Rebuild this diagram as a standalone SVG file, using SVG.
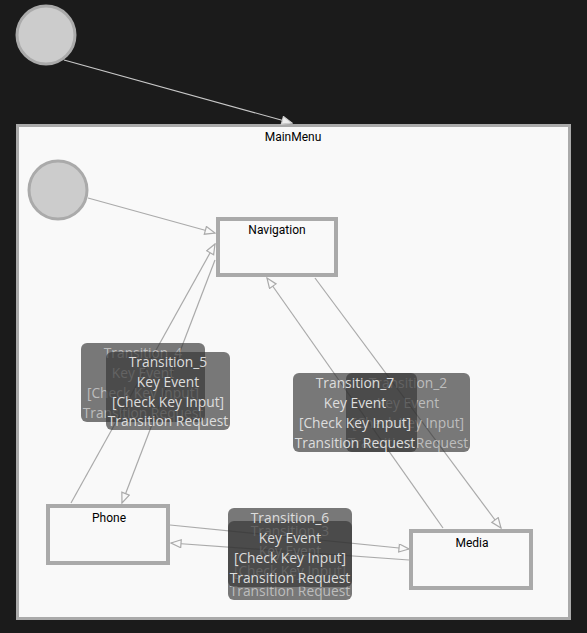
<svg xmlns="http://www.w3.org/2000/svg" width="587" height="633" viewBox="0 0 587 633">
<defs>
<style>
.init{fill:#cccccc;stroke:#aaaaaa;stroke-width:3}
.state{fill:#f9f9f9;stroke:#aaaaaa;stroke-width:4}
.stxt{font-family:Roboto,"Liberation Sans",sans-serif;font-size:12px;fill:#000;text-anchor:middle}
.edge{fill:none;stroke:#aaaaaa;stroke-width:1.2;marker-end:url(#arr)}
.lbox{fill:#333333;fill-opacity:0.65}
.ltxt{font-family:"Open Sans","Noto Sans",sans-serif;font-size:13.8px;fill:#dddddd;text-anchor:middle}
.under .ltxt{fill-opacity:0.7}
</style>
<marker id="arr" markerWidth="12" markerHeight="10" refX="11" refY="4.5" orient="auto" markerUnits="userSpaceOnUse">
<path d="M1,0.5 L11,4.5 L1,8.5 Z" fill="#f9f9f9" stroke="#aaaaaa" stroke-width="1.2"/>
</marker>
<marker id="arrw" markerWidth="12" markerHeight="10" refX="11" refY="4.5" orient="auto" markerUnits="userSpaceOnUse">
<path d="M1,0.5 L11,4.5 L1,8.5 Z" fill="#eeeeee" stroke="#cccccc" stroke-width="1.2"/>
</marker>
</defs>
<rect width="587" height="633" fill="#1b1b1b"/>
<g id="MainMenu">
<rect x="17.5" y="125.5" width="552" height="493" fill="#f9f9f9" stroke="#aaaaaa" stroke-width="3"/>
<text class="stxt" x="293" y="141">MainMenu</text>
</g>
<g id="Initial_outer"><circle class="init" cx="46" cy="35" r="29"/></g>
<g id="Initial_inner"><circle class="init" cx="58" cy="190" r="29"/></g>
<g id="Navigation">
<rect class="state" x="218" y="219" width="118" height="56"/>
<text class="stxt" x="277" y="234">Navigation</text>
</g>
<g id="Phone">
<rect class="state" x="48" y="506" width="120" height="57"/>
<text class="stxt" x="109" y="522">Phone</text>
</g>
<g id="Media">
<rect class="state" x="411" y="531" width="120" height="57"/>
<text class="stxt" x="472" y="547">Media</text>
</g>
<g id="connectors">
<line x1="64" y1="60" x2="292" y2="123" fill="none" stroke="#c8c8c8" stroke-width="1.2" marker-end="url(#arrw)"/>
<line class="edge" x1="88" y1="198" x2="215" y2="233"/>
<line class="edge" x1="71" y1="503" x2="215" y2="244"/>
<line class="edge" x1="215" y1="260" x2="122" y2="503"/>
<line class="edge" x1="315" y1="278" x2="501" y2="528"/>
<line class="edge" x1="443" y1="528" x2="267" y2="278"/>
<line class="edge" x1="170" y1="525" x2="409" y2="549"/>
<line class="edge" x1="409" y1="560" x2="171" y2="543"/>
</g>
<g id="edge-labels">
<g id="label_Transition_4" class="under">
<rect class="lbox" x="81" y="343" width="124" height="79" rx="6"/>
<text class="ltxt" x="143" y="358">Transition_4</text>
<text class="ltxt" x="143" y="378">Key Event</text>
<text class="ltxt" x="143" y="398">[Check Key Input]</text>
<text class="ltxt" x="143" y="418">Transition Request</text>
</g>
<g id="label_Transition_5">
<rect class="lbox" x="106" y="352" width="124" height="78" rx="6"/>
<text class="ltxt" x="168" y="367">Transition_5</text>
<text class="ltxt" x="168" y="387">Key Event</text>
<text class="ltxt" x="168" y="407">[Check Key Input]</text>
<text class="ltxt" x="168" y="426">Transition Request</text>
</g>
<g id="label_Transition_2" class="under">
<rect class="lbox" x="346" y="373" width="124" height="79" rx="6"/>
<text class="ltxt" x="408" y="388">Transition_2</text>
<text class="ltxt" x="408" y="408">Key Event</text>
<text class="ltxt" x="408" y="428">[Check Key Input]</text>
<text class="ltxt" x="408" y="448">Transition Request</text>
</g>
<g id="label_Transition_7">
<rect class="lbox" x="293" y="373" width="124" height="79" rx="6"/>
<text class="ltxt" x="355" y="388">Transition_7</text>
<text class="ltxt" x="355" y="408">Key Event</text>
<text class="ltxt" x="355" y="428">[Check Key Input]</text>
<text class="ltxt" x="355" y="448">Transition Request</text>
</g>
<g id="label_Transition_3" class="under">
<rect class="lbox" x="228" y="521" width="124" height="79" rx="6"/>
<text class="ltxt" x="290" y="536">Transition_3</text>
<text class="ltxt" x="290" y="556">Key Event</text>
<text class="ltxt" x="290" y="576">[Check Key Input]</text>
<text class="ltxt" x="290" y="596">Transition Request</text>
</g>
<g id="label_Transition_6">
<rect class="lbox" x="228" y="508" width="124" height="79" rx="6"/>
<text class="ltxt" x="290" y="523">Transition_6</text>
<text class="ltxt" x="290" y="543">Key Event</text>
<text class="ltxt" x="290" y="563">[Check Key Input]</text>
<text class="ltxt" x="290" y="583">Transition Request</text>
</g>
</g>
</svg>
